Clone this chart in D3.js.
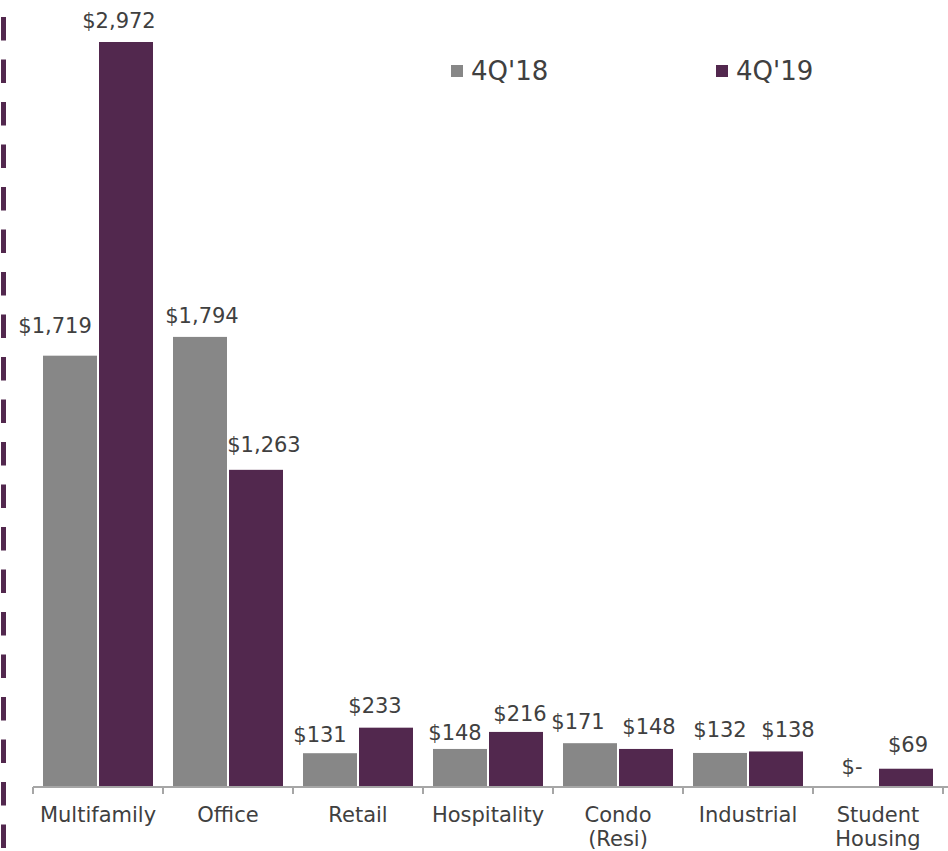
<!DOCTYPE html>
<html>
<head>
<meta charset="utf-8">
<script src="https://cdn.jsdelivr.net/npm/d3@7"></script>
<style>
  body { margin: 0; background: #fff; }
  svg text { font-family: "DejaVu Sans", Verdana, sans-serif; fill: #404040; }
</style>
</head>
<body>
<div id="chart"></div>
<script>
// donnees (en millions $)
const categories = [["Multifamily"], ["Office"], ["Retail"], ["Hospitality"], ["Condo", "(Resi)"], ["Industrial"], ["Student", "Housing"]];
const series = ["4Q'18", "4Q'19"];
const values18 = [1719, 1794, 131, 148, 171, 132, 0];
const values19 = [2972, 1263, 233, 216, 148, 138, 69];
const colors = ["#878787", "#52284E"];

// decalage des etiquettes comme dans l'original (placement auto d'Excel)
const nudgeX = [[-15, 2, -10, -5, -12, 0, 2], [-7, 8, -11, 4, 3, 12, 2]];
const gapY = [[23, 14, 11, 9, 14, 16, 12], [14, 18, 15, 11, 15, 14, 17]];

const W = 948, H = 851;
const svg = d3.select("#chart").append("svg").attr("width", W).attr("height", H);

const keys = categories.map(c => c.join(" "));
const x0 = d3.scaleBand().domain(keys).range([33, 943]);
const x1 = d3.scaleBand().domain(series).range([10, 122]);
const y = d3.scaleLinear().domain([0, 3000]).range([786, 35]);

// trait pointille a gauche
svg.append("line")
  .attr("x1", 3.5).attr("x2", 3.5).attr("y1", 17).attr("y2", H)
  .attr("stroke", "#52284E").attr("stroke-width", 5)
  .attr("stroke-dasharray", "23.5,19");

const rows = keys.map((k, i) => ({ key: k, i: i, vals: [values18[i], values19[i]] }));

const g = svg.selectAll("g.cat").data(rows).enter().append("g")
  .attr("class", "cat")
  .attr("transform", d => "translate(" + x0(d.key) + ",0)");

g.selectAll("rect").data(d => d.vals.map((v, j) => ({ s: series[j], v: v, j: j })))
  .enter().append("rect")
  .attr("x", d => x1(d.s))
  .attr("width", x1.bandwidth() - 2)
  .attr("y", d => y(d.v))
  .attr("height", d => y(0) - y(d.v))
  .attr("fill", d => colors[d.j]);

g.selectAll("text.lbl").data(d => d.vals.map((v, j) => ({ s: series[j], v: v, j: j, i: d.i })))
  .enter().append("text")
  .attr("class", "lbl")
  .attr("x", d => x1(d.s) + (x1.bandwidth() - 2) / 2 + nudgeX[d.j][d.i])
  .attr("y", d => y(d.v) - gapY[d.j][d.i])
  .attr("text-anchor", "middle")
  .attr("font-size", 21)
  .text(d => d.v === 0 ? "$-" : "$" + d3.format(",")(d.v));

// axe x
const axis = svg.append("g").attr("transform", "translate(0,787)");
axis.append("line").attr("x1", 33).attr("x2", 948).attr("y1", 0).attr("y2", 0)
  .attr("stroke", "#a6a6a6").attr("stroke-width", 2);
const tickX = keys.map(k => x0(k)).concat([x0.range()[1]]);
axis.selectAll("line.tick").data(tickX).enter().append("line")
  .attr("class", "tick")
  .attr("x1", d => d).attr("x2", d => d).attr("y1", 0).attr("y2", 7)
  .attr("stroke", "#a6a6a6").attr("stroke-width", 2);

const lab = svg.selectAll("text.cat").data(categories).enter().append("text")
  .attr("class", "cat")
  .attr("text-anchor", "middle")
  .attr("font-size", 21)
  .attr("x", (d, i) => x0(keys[i]) + x0.bandwidth() / 2)
  .attr("y", 822);
lab.selectAll("tspan").data(d => d).enter().append("tspan")
  .attr("x", function () { return d3.select(this.parentNode).attr("x"); })
  .attr("dy", (d, i) => i === 0 ? 0 : 24)
  .text(d => d);

// legende
const legX = [451, 716];
const leg = svg.selectAll("g.leg").data(series).enter().append("g")
  .attr("class", "leg")
  .attr("transform", (d, i) => "translate(" + legX[i] + ",0)");
leg.append("rect").attr("x", 0).attr("y", 65).attr("width", 12).attr("height", 12)
  .attr("fill", (d, i) => colors[i]);
leg.append("text").attr("x", 20).attr("y", 80).attr("font-size", 26).text(d => d);
</script>
</body>
</html>
